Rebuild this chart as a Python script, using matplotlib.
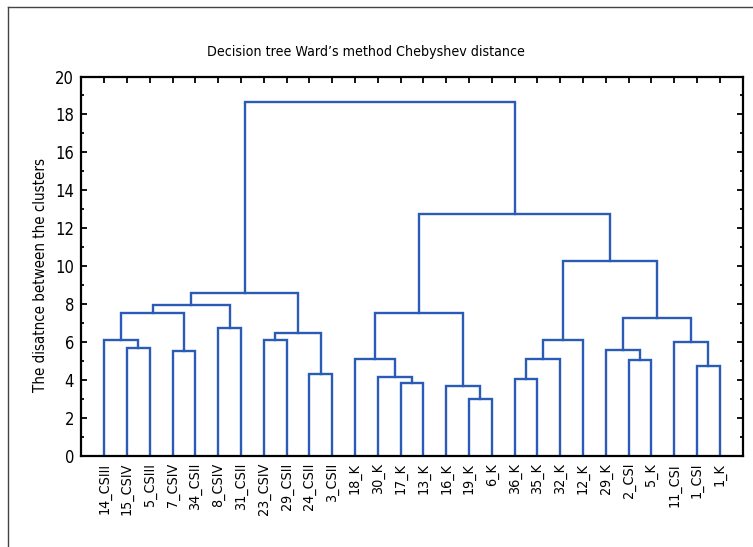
import matplotlib
matplotlib.use("Agg")
import matplotlib.pyplot as plt
from matplotlib import font_manager
from matplotlib.lines import Line2D

# leaf labels, left to right
leaves = ["14_CSIII", "15_CSIV", "5_CSIII", "7_CSIV", "34_CSII", "8_CSIV",
          "31_CSII", "23_CSIV", "29_CSII", "24_CSII", "3_CSII", "18_K", "30_K",
          "17_K", "13_K", "16_K", "19_K", "6_K", "36_K", "35_K", "32_K", "12_K",
          "29_K", "2_CSI", "5_K", "11_CSI", "1_CSI", "1_K"]

# merges: (left node, right node); new node ids start after the leaves
merge_pairs = [(1, 2), (0, 28), (3, 4), (29, 30), (5, 6), (31, 32), (7, 8),
               (9, 10), (34, 35), (33, 36), (13, 14), (12, 38), (11, 39),
               (16, 17), (15, 41), (40, 42), (18, 19), (44, 20), (45, 21),
               (23, 24), (22, 47), (26, 27), (25, 49), (48, 50), (46, 51),
               (43, 52), (37, 53)]
merge_heights = [5.69, 6.10, 5.52, 7.52, 6.73, 7.96, 6.10, 4.30, 6.47, 8.57,
                 3.86, 4.15, 5.11, 3.02, 3.70, 7.54, 4.06, 5.11, 6.10, 5.08,
                 5.59, 4.74, 6.01, 7.29, 10.26, 12.75, 18.64]

LINE_COLOR = "#2b5cb5"


def pick_font():
    # the original uses a condensed face; use one if the system has it
    fonts = font_manager.fontManager.ttflist
    if any(f.name == "Liberation Sans Narrow" for f in fonts):
        return {"family": ["Liberation Sans Narrow", "DejaVu Sans"]}, 1.0
    if any(f.name == "DejaVu Sans" and "Condensed" in f.fname for f in fonts):
        return {"family": ["DejaVu Sans"], "stretch": "condensed"}, 0.95
    return {"family": ["DejaVu Sans"]}, 0.8


def main():
    font, k = pick_font()
    plt.rcParams["font.family"] = font["family"]
    if "stretch" in font:
        plt.rcParams["font.stretch"] = font["stretch"]

    fig = plt.figure(figsize=(7.53, 5.47), dpi=100)
    ax = fig.add_axes([81 / 753, 1 - 456 / 547, 662 / 753, 379.5 / 547])

    xs = list(range(len(leaves)))
    hs = [0.0] * len(leaves)
    for (a, b), h in zip(merge_pairs, merge_heights):
        ax.plot([xs[a], xs[a], xs[b], xs[b]], [hs[a], h, h, hs[b]],
                color=LINE_COLOR, lw=1.7, solid_joinstyle="miter")
        xs.append((xs[a] + xs[b]) / 2)
        hs.append(h)

    ax.set_xlim(-1.02, len(leaves) - 1 + 1.02)
    ax.set_ylim(0, 20)
    ax.set_yticks(range(0, 21, 2))
    ax.set_yticks(range(0, 21), minor=True)
    ax.set_xticks(range(len(leaves)))
    ax.set_xticklabels(leaves, rotation=90, fontsize=10.8 * k)
    ax.tick_params(axis="y", labelsize=12.5 * k, pad=5)
    ax.tick_params(which="both", direction="in", top=True, right=True,
                   width=1.3, color="black")
    ax.tick_params(which="major", length=4)
    ax.tick_params(which="minor", length=2.5)
    ax.tick_params(axis="x", pad=5)
    for s in ax.spines.values():
        s.set_linewidth(1.6)

    fig.text(366 / 753, 1 - 52 / 547,
             "Decision tree Ward\u2019s method Chebyshev distance",
             ha="center", va="center", fontsize=10.7 * k)
    fig.text(41 / 753, 1 - 275 / 547, "The disatnce between the clusters",
             rotation=90, ha="center", va="center", fontsize=11.4 * k)

    # outer frame (only top and left visible)
    fig.add_artist(Line2D([8 / 753, 8 / 753], [0, 1 - 7 / 547],
                          transform=fig.transFigure, color="#444444", lw=1))
    fig.add_artist(Line2D([8 / 753, 1], [1 - 7 / 547, 1 - 7 / 547],
                          transform=fig.transFigure, color="#444444", lw=1))

    fig.savefig("out.png", dpi=100)


if __name__ == "__main__":
    main()
